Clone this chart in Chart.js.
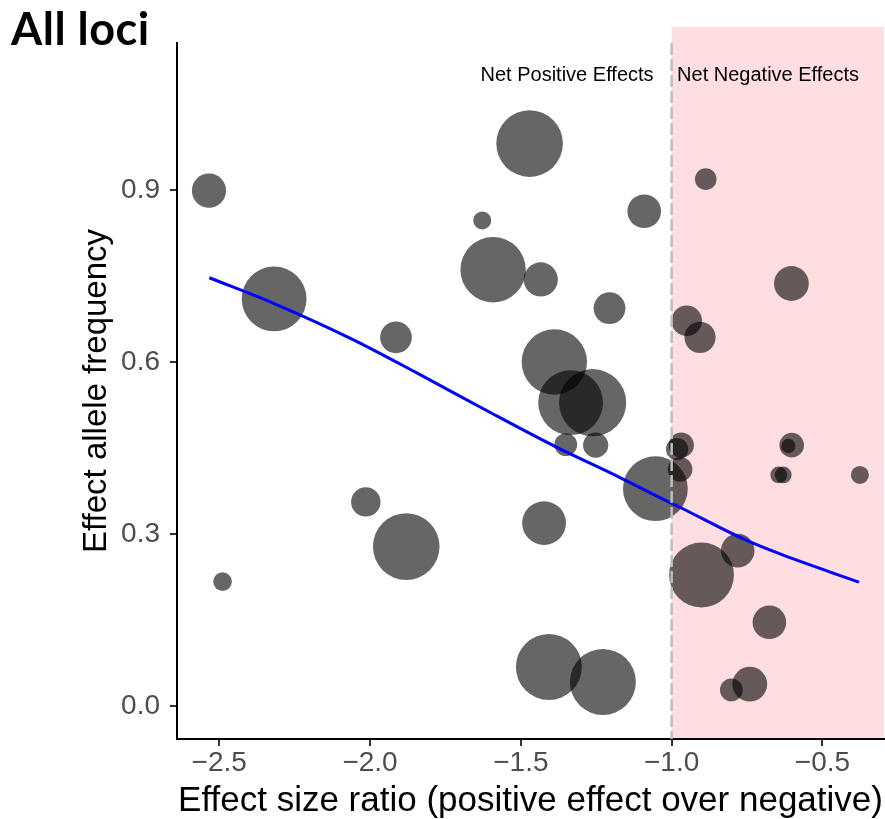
<!DOCTYPE html>
<html>
<head>
<meta charset="utf-8">
<script src="https://cdn.jsdelivr.net/npm/chart.js@4.4.1/dist/chart.umd.min.js"></script>
<style>
  html, body { margin: 0; padding: 0; background: #fff; }
  #wrap { position: relative; width: 885px; height: 819px; }
  #lociTitle {
    position: absolute; left: 11px; top: 6px; line-height: 1; letter-spacing: 0.5px;
    font-family: Lato, 'Open Sans', sans-serif; font-weight: 700; font-size: 45px; color: #000;
  }
</style>
</head>
<body>
<div id="wrap">
  <canvas id="lociChart" width="885" height="819"></canvas>
  <div id="lociTitle">All loci</div>
</div>
<script>
// loci: effect size ratio, effect allele frequency, relative size
const ratioX = [-2.534, -2.489, -2.318, -1.914, -2.014, -1.880, -1.628, -1.471, -1.592, -1.434,
  -1.389, -1.335, -1.262, -1.351, -1.252, -1.206, -1.091, -1.423, -1.407, -1.228, -1.054,
  -0.887, -0.603, -0.950, -0.906, -0.968, -0.982, -0.972, -0.602, -0.613, -0.645, -0.630,
  -0.376, -0.901, -0.781, -0.676, -0.741, -0.802];
const alleleFreq = [0.899, 0.217, 0.710, 0.643, 0.356, 0.278, 0.847, 0.981, 0.761, 0.744,
  0.600, 0.529, 0.529, 0.456, 0.455, 0.694, 0.863, 0.319, 0.068, 0.042, 0.379,
  0.919, 0.737, 0.672, 0.643, 0.455, 0.448, 0.413, 0.455, 0.4535, 0.403, 0.403,
  0.403, 0.2285, 0.271, 0.146, 0.038, 0.028];
const lociSize = [5.7, 3.1, 10.8, 5.3, 4.9, 11.1, 3.0, 11.1, 10.9, 5.7,
  10.9, 10.8, 11.2, 3.8, 4.2, 5.3, 5.6, 7.3, 11.0, 11.0, 10.8,
  3.6, 5.8, 5.1, 5.2, 4.2, 3.7, 4.1, 4.1, 2.4, 2.8, 2.8,
  3.0, 10.8, 5.6, 5.6, 5.8, 3.8];

// smoothed trend (loess)
const smoothX = [-2.533, -2.318, -2.060, -1.845, -1.623, -1.384, -1.181, -1.049, -0.978, -0.757, -0.630, -0.379];
const smoothY = [0.747, 0.702, 0.640, 0.581, 0.518, 0.452, 0.401, 0.366, 0.348, 0.290, 0.263, 0.216];

const xTicks = [-2.5, -2.0, -1.5, -1.0, -0.5];
const yTicks = [0.0, 0.3, 0.6, 0.9];

const splitAt = -1.0;
const shadeTop = 1.185;
const noteY = 1.1;
const notePosX = -1.06;
const noteNegX = -0.982;

const FONT = "'Liberation Sans', Arial, sans-serif";
const SIZE_PX = 3;

const fmt = v => (v < 0 ? '\u2212' : '') + Math.abs(v).toFixed(1);

const regionPlugin = {
  id: 'regions',
  beforeDatasetsDraw(chart) {
    const { ctx, chartArea, scales: { x, y } } = chart;
    const x0 = x.getPixelForValue(splitAt);
    const top = y.getPixelForValue(shadeTop);
    ctx.save();
    ctx.fillStyle = 'rgb(255, 222, 225)';
    ctx.fillRect(x0, top, chartArea.right - x0, chartArea.bottom - 1 - top);
    ctx.restore();
  },
  afterDatasetsDraw(chart) {
    const { ctx, chartArea, scales: { x, y } } = chart;
    const x0 = x.getPixelForValue(splitAt);
    ctx.save();
    ctx.strokeStyle = '#BEBEBE';
    ctx.lineWidth = 2.5;
    ctx.setLineDash([12, 4]);
    ctx.beginPath();
    ctx.moveTo(x0, chartArea.top);
    ctx.lineTo(x0, chartArea.bottom);
    ctx.stroke();
    ctx.setLineDash([]);
    ctx.fillStyle = '#000';
    ctx.font = '20px ' + FONT;
    ctx.textBaseline = 'middle';
    ctx.textAlign = 'right';
    ctx.fillText('Net Positive Effects', x.getPixelForValue(notePosX), y.getPixelForValue(noteY));
    ctx.textAlign = 'left';
    ctx.fillText('Net Negative Effects', x.getPixelForValue(noteNegX), y.getPixelForValue(noteY));
    ctx.restore();
  }
};

const bubbleData = ratioX.map((v, i) => ({ x: v, y: alleleFreq[i], r: lociSize[i] * SIZE_PX }));
const trendData = smoothX.map((v, i) => ({ x: v, y: smoothY[i] }));

const ctx = document.getElementById('lociChart').getContext('2d');
new Chart(ctx, {
  type: 'bubble',
  data: {
    datasets: [
      {
        type: 'line',
        label: 'loess',
        data: trendData,
        borderColor: '#0000FF',
        borderWidth: 3,
        pointRadius: 0,
        fill: false,
        cubicInterpolationMode: 'monotone',
        order: 0
      },
      {
        label: 'loci',
        data: bubbleData,
        backgroundColor: 'rgba(0, 0, 0, 0.6)',
        borderWidth: 0,
        hoverRadius: 0,
        order: 1
      }
    ]
  },
  options: {
    responsive: false,
    animation: false,
    events: [],
    layout: { autoPadding: false, padding: { top: 43, right: 1, bottom: 0, left: 0 } },
    plugins: { legend: { display: false }, tooltip: { enabled: false } },
    scales: {
      x: {
        type: 'linear',
        min: -2.640,
        max: -0.296,
        afterBuildTicks: s => { s.ticks = xTicks.map(v => ({ value: v })); },
        afterFit: s => { s.height = 80; s.paddingLeft = 0; s.paddingRight = 0; },
        ticks: { callback: v => fmt(v), color: '#4D4D4D', font: { family: FONT, size: 28 }, padding: 0, maxRotation: 0, autoSkip: false },
        grid: { drawOnChartArea: false, drawTicks: true, tickLength: 7, color: '#333333', lineWidth: 2 },
        border: { display: true, color: '#000', width: 2 },
        title: { display: true, text: 'Effect size ratio (positive effect over negative)', color: '#000', font: { family: FONT, size: 35, lineHeight: 1 }, padding: { top: 0, bottom: 0 } }
      },
      y: {
        type: 'linear',
        min: -0.0576,
        max: 1.1565,
        afterBuildTicks: s => { s.ticks = yTicks.map(v => ({ value: v })); },
        afterFit: s => { s.width = 177; s.paddingTop = 0; s.paddingBottom = 0; },
        ticks: { callback: v => v.toFixed(1), color: '#4D4D4D', font: { family: FONT, size: 28 }, padding: 10 },
        grid: { drawOnChartArea: false, drawTicks: true, tickLength: 7, color: '#333333', lineWidth: 2 },
        border: { display: true, color: '#000', width: 2 },
        title: { display: true, text: 'Effect allele frequency', color: '#000', font: { family: FONT, size: 33, lineHeight: 1 }, padding: { top: 80, bottom: 0 } }
      }
    }
  },
  plugins: [regionPlugin]
});
</script>
</body>
</html>
